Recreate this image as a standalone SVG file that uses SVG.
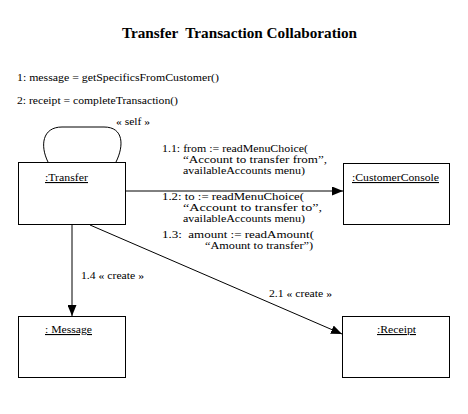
<svg xmlns="http://www.w3.org/2000/svg" width="468" height="414" viewBox="0 0 468 414">
<style>
text{font-family:"Liberation Serif","DejaVu Serif","Times New Roman",serif;font-size:11px;fill:#000}
.title{font-size:14px;font-weight:bold}
.u{text-decoration:underline}
.box{fill:#fff;stroke:#000;stroke-width:1}
.ln{fill:none;stroke:#000;stroke-width:1}
</style>
<defs>
<marker id="ah" markerWidth="11" markerHeight="9" refX="11" refY="4.5" orient="auto" markerUnits="userSpaceOnUse">
<path d="M0,0 L11,4.5 L0,9 Z" fill="#000"/>
</marker>
</defs>
<rect width="468" height="414" fill="#fff"/>
<text class="title" x="122" y="38" textLength="235" lengthAdjust="spacingAndGlyphs" xml:space="preserve">Transfer  Transaction Collaboration</text>
<text x="17" y="81" textLength="202" lengthAdjust="spacingAndGlyphs">1: message = getSpecificsFromCustomer()</text>
<text x="17" y="104" textLength="161" lengthAdjust="spacingAndGlyphs">2: receipt = completeTransaction()</text>
<g id="connectors">
<path class="ln" d="M48,162 C40,146 42,127 62,127 L104,127 C124,127 124,146 116,162"/>
<text x="116" y="125" textLength="34" lengthAdjust="spacingAndGlyphs">« self »</text>
<line class="ln" x1="125" y1="191" x2="343" y2="191" marker-end="url(#ah)"/>
<line class="ln" x1="72" y1="224" x2="72" y2="316" marker-end="url(#ah)"/>
<line class="ln" x1="90" y1="225" x2="342" y2="334" marker-end="url(#ah)"/>
<text x="162" y="152" textLength="146" lengthAdjust="spacingAndGlyphs">1.1: from := readMenuChoice(</text>
<text x="183" y="163" textLength="144" lengthAdjust="spacingAndGlyphs">“Account to transfer from”,</text>
<text x="183" y="174" textLength="122" lengthAdjust="spacingAndGlyphs">availableAccounts menu)</text>
<text x="162" y="200" textLength="142" lengthAdjust="spacingAndGlyphs">1.2: to := readMenuChoice(</text>
<text x="183" y="211" textLength="139" lengthAdjust="spacingAndGlyphs">“Account to transfer to”,</text>
<text x="183" y="222" textLength="122" lengthAdjust="spacingAndGlyphs">availableAccounts menu)</text>
<text x="162" y="238" textLength="152" lengthAdjust="spacingAndGlyphs" xml:space="preserve">1.3:  amount := readAmount(</text>
<text x="205" y="249" textLength="108" lengthAdjust="spacingAndGlyphs">“Amount to transfer”)</text>
<text x="81" y="279" textLength="63" lengthAdjust="spacingAndGlyphs">1.4 « create »</text>
<text x="269" y="297" textLength="63" lengthAdjust="spacingAndGlyphs">2.1 « create »</text>
</g>
<g id="transfer">
<rect class="box" x="18.5" y="162.5" width="107" height="62"/>
<text class="u" x="45" y="181" textLength="43" lengthAdjust="spacingAndGlyphs">:Transfer</text>
</g>
<g id="customerConsole">
<rect class="box" x="343.5" y="163.5" width="106" height="61"/>
<text class="u" x="352" y="181" textLength="87" lengthAdjust="spacingAndGlyphs">:CustomerConsole</text>
</g>
<g id="message">
<rect class="box" x="18.5" y="316.5" width="107" height="61"/>
<text class="u" x="45" y="333" textLength="47" lengthAdjust="spacingAndGlyphs">: Message</text>
</g>
<g id="receipt">
<rect class="box" x="342.5" y="316.5" width="107" height="61"/>
<text class="u" x="377" y="333" textLength="39" lengthAdjust="spacingAndGlyphs">:Receipt</text>
</g>
</svg>
